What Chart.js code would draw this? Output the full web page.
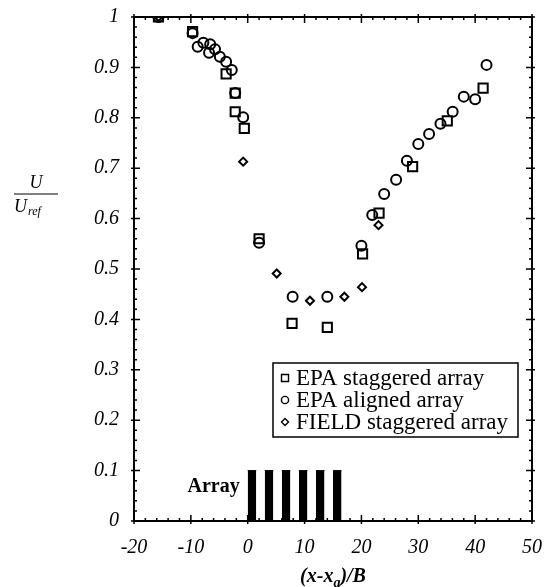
<!DOCTYPE html>
<html>
<head>
<meta charset="utf-8">
<script src="https://cdn.jsdelivr.net/npm/chart.js@4.4.0/dist/chart.umd.min.js"></script>
<style>
  html, body { margin: 0; padding: 0; background: #fff; }
</style>
</head>
<body>
<canvas id="myChart" width="553" height="587"></canvas>
<script>
// EPA staggered array (squares)
const staggeredX = [-15.7, -9.7, -3.8, -2.2, -2.2, -0.6, 2.0, 7.8, 14.0, 20.2, 23.1, 29.0, 35.1, 41.4];
const staggeredY = [1.0, 0.971, 0.887, 0.849, 0.812, 0.779, 0.56, 0.392, 0.384, 0.530, 0.611, 0.703, 0.794, 0.859];

// EPA aligned array (circles)
const alignedX = [-15.7, -9.7, -8.8, -7.8, -6.8, -6.6, -5.75, -4.9, -3.8, -2.8, -2.2, -0.8, 2.0, 7.9, 14.0, 20.0, 21.9, 24.0, 26.1, 28.0, 30.0, 31.9, 33.9, 36.05, 38.0, 40.0, 42.0];
const alignedY = [1.0, 0.968, 0.941, 0.949, 0.929, 0.946, 0.936, 0.921, 0.911, 0.895, 0.849, 0.801, 0.552, 0.445, 0.445, 0.546, 0.607, 0.649, 0.677, 0.715, 0.748, 0.768, 0.788, 0.812, 0.842, 0.837, 0.905];

// FIELD staggered array (diamonds)
const fieldX = [-15.7, -0.8, 5.1, 10.95, 17.0, 20.1, 23.0];
const fieldY = [1.0, 0.713, 0.491, 0.437, 0.445, 0.464, 0.587];

// the array of buildings drawn at the bottom
const arrayStart = [0, 3, 6, 9, 12, 15];
const arrayWidth = 1.5;
const arrayHeight = 0.1;

const seriesNames = ["EPA staggered array", "EPA aligned array", "FIELD staggered array"];

const xMin = -20, xMax = 50, xStep = 10, xMinor = 2;
const yMin = 0, yMax = 1, yStep = 0.1, yMinor = 0.02;

const serif = "'Liberation Serif', 'Times New Roman', serif";

function toPoints(xs, ys) {
  return xs.map((v, i) => ({ x: v, y: ys[i] }));
}

const markerDefaults = {
  showLine: false,
  borderColor: "#000",
  backgroundColor: "rgba(0,0,0,0)",
  pointBorderWidth: 2,
};

const datasets = [
  { ...markerDefaults, label: seriesNames[0], data: toPoints(staggeredX, staggeredY), pointStyle: "rect", pointRadius: 6.5 },
  { ...markerDefaults, label: seriesNames[1], data: toPoints(alignedX, alignedY), pointStyle: "circle", pointRadius: 5 },
  { ...markerDefaults, label: seriesNames[2], data: toPoints(fieldX, fieldY), pointStyle: "rectRot", pointRadius: 4 },
];

arrayStart.forEach((s) => {
  datasets.push({
    label: "array",
    data: [{ x: s, y: arrayHeight }, { x: s + arrayWidth, y: arrayHeight }],
    showLine: true,
    fill: "origin",
    backgroundColor: "#000",
    borderColor: "#000",
    borderWidth: 1,
    pointRadius: 0,
  });
});

// frame, inward ticks, legend box and titles
const decorations = {
  id: "decorations",
  afterDraw(chart) {
    const { ctx, chartArea: a, scales: { x, y } } = chart;
    ctx.save();
    ctx.strokeStyle = "#000";
    ctx.fillStyle = "#000";

    ctx.lineWidth = 1.5;
    ctx.beginPath();
    const nx = Math.round((xMax - xMin) / xMinor);
    for (let i = 0; i <= nx; i++) {
      const v = xMin + i * xMinor;
      const px = x.getPixelForValue(v);
      const major = i % (xStep / xMinor) === 0;
      const len = major ? 6 : 3;
      ctx.moveTo(px, a.bottom + (major ? 3 : 1));
      ctx.lineTo(px, a.bottom - len);
      ctx.moveTo(px, a.top - (major ? 3 : 1));
      ctx.lineTo(px, a.top + len);
    }
    const ny = Math.round((yMax - yMin) / yMinor);
    for (let i = 0; i <= ny; i++) {
      const v = yMin + i * yMinor;
      const py = y.getPixelForValue(v);
      const major = i % 5 === 0;
      const len = major ? 6 : 3;
      ctx.moveTo(a.left - (major ? 3 : 1), py);
      ctx.lineTo(a.left + len, py);
      ctx.moveTo(a.right + (major ? 3 : 1), py);
      ctx.lineTo(a.right - len, py);
    }
    ctx.stroke();

    ctx.lineWidth = 2;
    ctx.strokeRect(a.left, a.top, a.right - a.left, a.bottom - a.top);

    // legend
    const box = { left: a.right - 259, top: a.top + 346, w: 245, h: 74 };
    ctx.fillStyle = "#fff";
    ctx.fillRect(box.left, box.top, box.w, box.h);
    ctx.lineWidth = 1.5;
    ctx.strokeRect(box.left, box.top, box.w, box.h);
    ctx.fillStyle = "#000";
    ctx.font = "23px " + serif;
    ctx.textBaseline = "middle";
    ctx.textAlign = "left";
    seriesNames.forEach((name, i) => {
      const cy = box.top + 15 + i * 22;
      const mx = box.left + 12;
      ctx.lineWidth = 1.4;
      ctx.beginPath();
      if (i === 0) ctx.rect(mx - 3.5, cy - 3.5, 7, 7);
      else if (i === 1) ctx.arc(mx, cy, 3.6, 0, Math.PI * 2);
      else {
        ctx.moveTo(mx, cy - 3.5); ctx.lineTo(mx + 3.5, cy);
        ctx.lineTo(mx, cy + 3.5); ctx.lineTo(mx - 3.5, cy); ctx.closePath();
      }
      ctx.stroke();
      ctx.fillText(name, box.left + 23, cy + 1);
    });

    // "Array" label
    ctx.font = "bold 20px " + serif;
    ctx.textAlign = "right";
    ctx.textBaseline = "alphabetic";
    ctx.fillText("Array", x.getPixelForValue(0) - 8, y.getPixelForValue(0.058));

    // x axis title (x-x_a)/B
    const big = "bold italic 20px " + serif;
    const small = "bold italic 14px " + serif;
    const parts = [["(x-x", big, 0], ["a", small, 5], [")/B", big, 0]];
    let total = 0;
    parts.forEach((p) => { ctx.font = p[1]; total += ctx.measureText(p[0]).width; });
    let tx = (a.left + a.right) / 2 - total / 2;
    const ty = 582;
    ctx.textAlign = "left";
    parts.forEach((p) => {
      ctx.font = p[1];
      ctx.fillText(p[0], tx, ty + p[2]);
      tx += ctx.measureText(p[0]).width;
    });

    // y axis title U / U_ref
    const cx = 36;
    ctx.font = "italic 18px " + serif;
    ctx.textAlign = "center";
    ctx.fillText("U", cx, 188);
    ctx.lineWidth = 1;
    ctx.beginPath();
    ctx.moveTo(cx - 22, 194);
    ctx.lineTo(cx + 22, 194);
    ctx.stroke();
    ctx.textAlign = "left";
    ctx.fillText("U", cx - 22, 212);
    ctx.font = "italic 12px " + serif;
    ctx.fillText("ref", cx - 8, 215);

    ctx.restore();
  },
};

const myChart = new Chart(document.getElementById("myChart").getContext("2d"), {
  type: "scatter",
  data: { datasets: datasets },
  options: {
    responsive: false,
    animation: false,
    devicePixelRatio: 1,
    layout: { padding: { left: 0, right: 21, top: 17, bottom: 0 } },
    plugins: {
      legend: { display: false },
      tooltip: { enabled: false },
    },
    scales: {
      x: {
        type: "linear",
        min: xMin,
        max: xMax,
        grid: { display: false, drawTicks: false },
        border: { display: false },
        ticks: {
          stepSize: xStep,
          padding: 15,
          color: "#000",
          font: { family: serif, size: 20, style: "italic" },
        },
        afterFit: (scale) => {
          scale.height = 66;
          scale.paddingLeft = 0;
          scale.paddingRight = 0;
        },
      },
      y: {
        type: "linear",
        min: yMin,
        max: yMax,
        grid: { display: false, drawTicks: false },
        border: { display: false },
        ticks: {
          stepSize: yStep,
          padding: 15,
          color: "#000",
          font: { family: serif, size: 20, style: "italic" },
          callback: (value) => parseFloat(value.toFixed(1)).toString(),
        },
        afterFit: (scale) => {
          scale.width = 134;
          scale.paddingTop = 0;
          scale.paddingBottom = 0;
        },
      },
    },
  },
  plugins: [decorations],
});
</script>
</body>
</html>
